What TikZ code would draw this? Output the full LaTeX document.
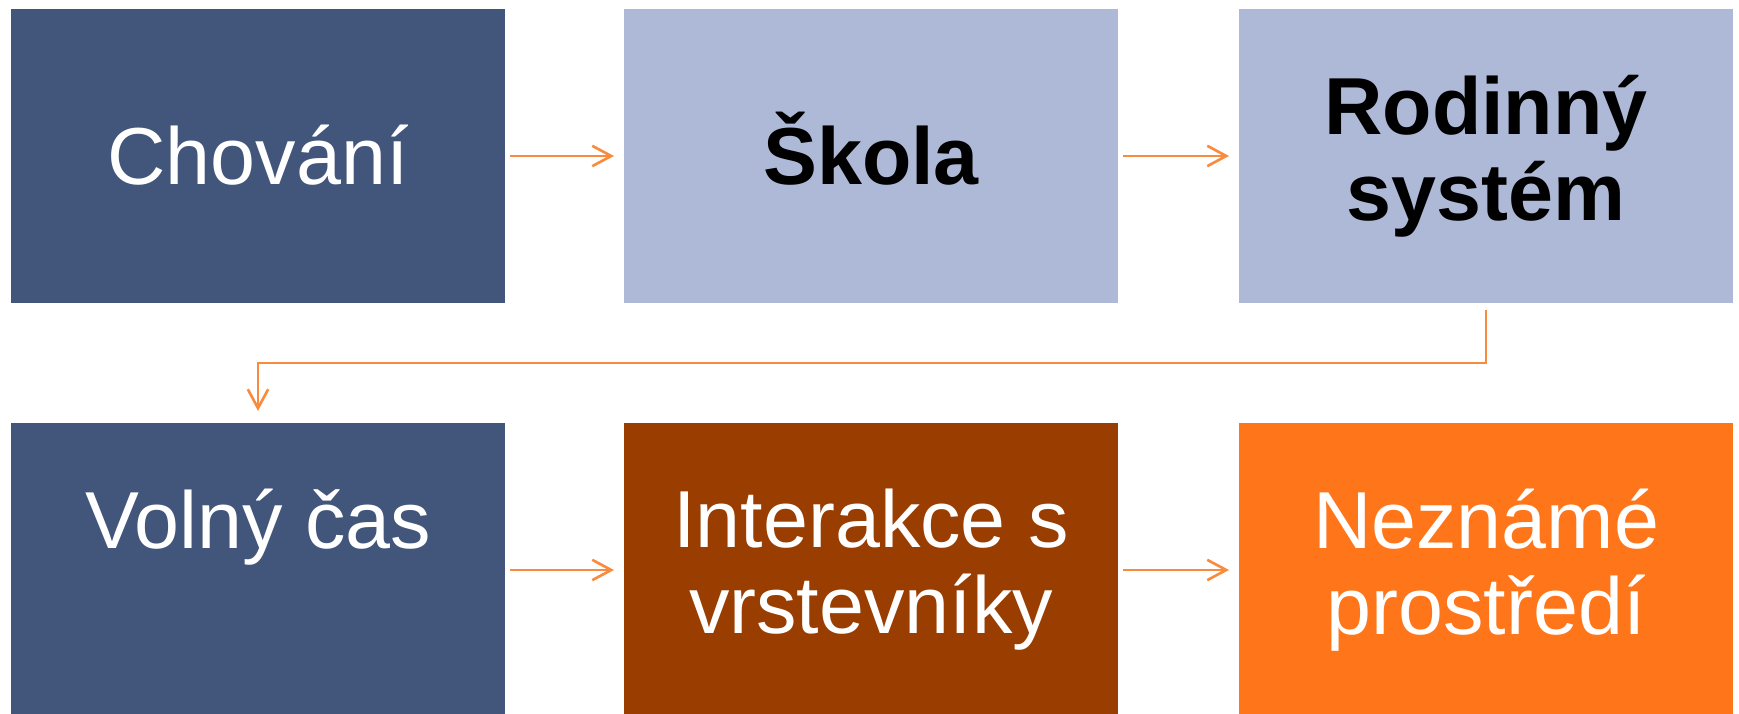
\documentclass[tikz,border=0pt]{standalone}
\usepackage{fontspec}
\setmainfont{Liberation Sans}
\usetikzlibrary{arrows.meta,positioning}
\definecolor{slateblue}{HTML}{42557B}
\definecolor{paleblue}{HTML}{ADB9D6}
\definecolor{rust}{HTML}{993D00}
\definecolor{brightor}{HTML}{FF761A}
\definecolor{linkor}{HTML}{F98B3F}
\newcommand\tallline{\rule{0pt}{0.905em}}
\newcommand\deepline{\rule[-0.212em]{0pt}{0.212em}}

\begin{document}
\begin{tikzpicture}[every node/.style={outer sep=0pt},
    box/.style={fill=#1,minimum width=4.94cm,minimum height=2.94cm,inner sep=0pt,
      align=center,text=white,font=\fontsize{23}{24.5}\selectfont,
      execute at begin node=\tallline,execute at end node=\deepline},
    boldbox/.style={box=#1,text=black,font=\fontsize{23}{24.5}\selectfont\bfseries},
    link/.style={draw=linkor,line width=0.75pt,
      -{Straight Barb[length=5.4pt,width=5.8pt]},shorten <=0.05cm,shorten >=0.1cm}]

    \useasboundingbox (0,0) rectangle (17.39,-7.14);

    \node[box=slateblue,anchor=north west] (chov) at (0.11,-0.09) {Chování};
    \node[boldbox=paleblue,right=1.19cm of chov] (skola) {Škola};
    \node[boldbox=paleblue,right=1.21cm of skola] (rodina) {Rodinný\\systém};

    \node[box=slateblue,below=1.2cm of chov] (volno) {Volný čas\\{}};
    \node[box=rust,right=1.19cm of volno] (vrst) {Interakce s\\vrstevníky};
    \node[box=brightor,right=1.21cm of vrst] (nezn) {Neznámé\\prostředí};

    \draw[link] (chov) -- (skola);
    \draw[link] (skola) -- (rodina);
    \draw[link,shorten <=0.07cm,shorten >=0.12cm] (rodina.south) -- ++ (0,-0.6)
      coordinate (aux) -| (volno.north);
    \draw[link] (volno) -- (vrst);
    \draw[link] (vrst) -- (nezn);
\end{tikzpicture}
\end{document}
